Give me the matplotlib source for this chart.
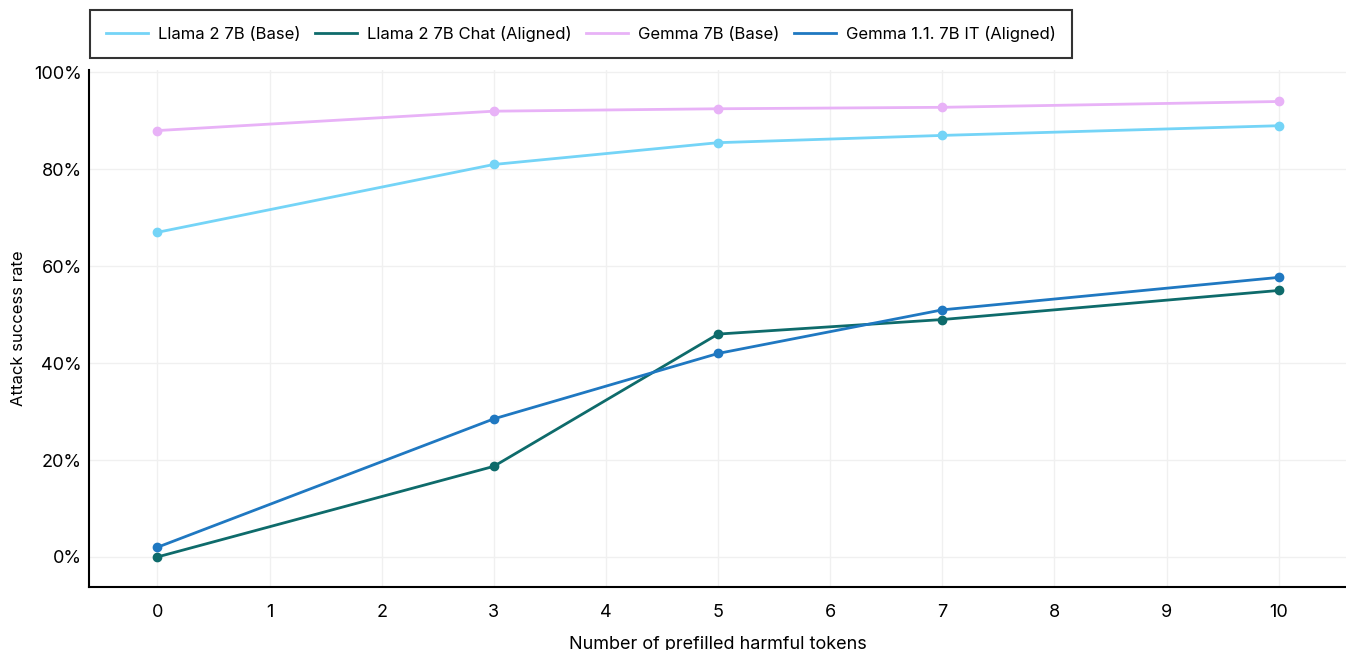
import numpy as np
import matplotlib.pyplot as plt
from matplotlib.ticker import PercentFormatter

plt.rcParams['font.family'] = ['Inter', 'DejaVu Sans']

# prefilled token counts and attack success rates (%)
tokens = [0, 3, 5, 7, 10]
llama_base = [67.0, 81.0, 85.5, 87.0, 89.0]
llama_chat = [0.0, 18.7, 46.0, 49.0, 55.0]
gemma_base = [88.0, 92.0, 92.5, 92.8, 94.0]
gemma_it = [2.0, 28.5, 42.0, 51.0, 57.7]

labels = ['Llama 2 7B (Base)', 'Llama 2 7B Chat (Aligned)', 'Gemma 7B (Base)', 'Gemma 1.1. 7B IT (Aligned)']
colors = ['#74d4f7', '#0e6b6b', '#e8b2f7', '#1f78c1']
series = [llama_base, llama_chat, gemma_base, gemma_it]

fig = plt.figure(figsize=(13.46, 6.5), dpi=100)
ax = fig.add_axes([89/1346, 1 - 587/650, 1 - 89/1346, (587 - 70)/650])

for ys, lab, c in zip(series, labels, colors):
    ax.plot(tokens, ys, color=c, lw=2, marker='o', ms=6, label=lab)

ax.set_xlim(-0.61, 10.6)
ax.set_ylim(-6.2, 100.5)
ax.set_xticks(range(11))
ax.set_yticks([0, 20, 40, 60, 80, 100])
ax.yaxis.set_major_formatter(PercentFormatter(decimals=0))
ax.grid(True, color='#f0f0f0', lw=1)
ax.set_axisbelow(True)
ax.tick_params(length=0, labelsize=13)
ax.tick_params(axis='y', pad=5)
ax.tick_params(axis='x', pad=12)
for s in ['top', 'right']:
    ax.spines[s].set_visible(False)
for s in ['left', 'bottom']:
    ax.spines[s].set_linewidth(1.5)
    ax.spines[s].set_color('black')

ax.set_xlabel('Number of prefilled harmful tokens', fontsize=13)
ax.set_ylabel('Attack success rate', fontsize=12)
ax.xaxis.set_label_coords(0.5, -0.094)
ax.yaxis.set_label_coords(-0.05, 0.5)

leg = fig.legend(loc='upper left', bbox_to_anchor=(90/1346, 1 - 10/650), ncol=4,
                 frameon=True, fancybox=False, fontsize=12, handlelength=2.5,
                 columnspacing=0.9, handletextpad=0.6, borderpad=0.95,
                 borderaxespad=0)
leg.get_frame().set_edgecolor('black')
leg.get_frame().set_linewidth(1.5)
for h in leg.legend_handles:
    h.set_marker('')

fig.savefig('out.png', dpi=100)
